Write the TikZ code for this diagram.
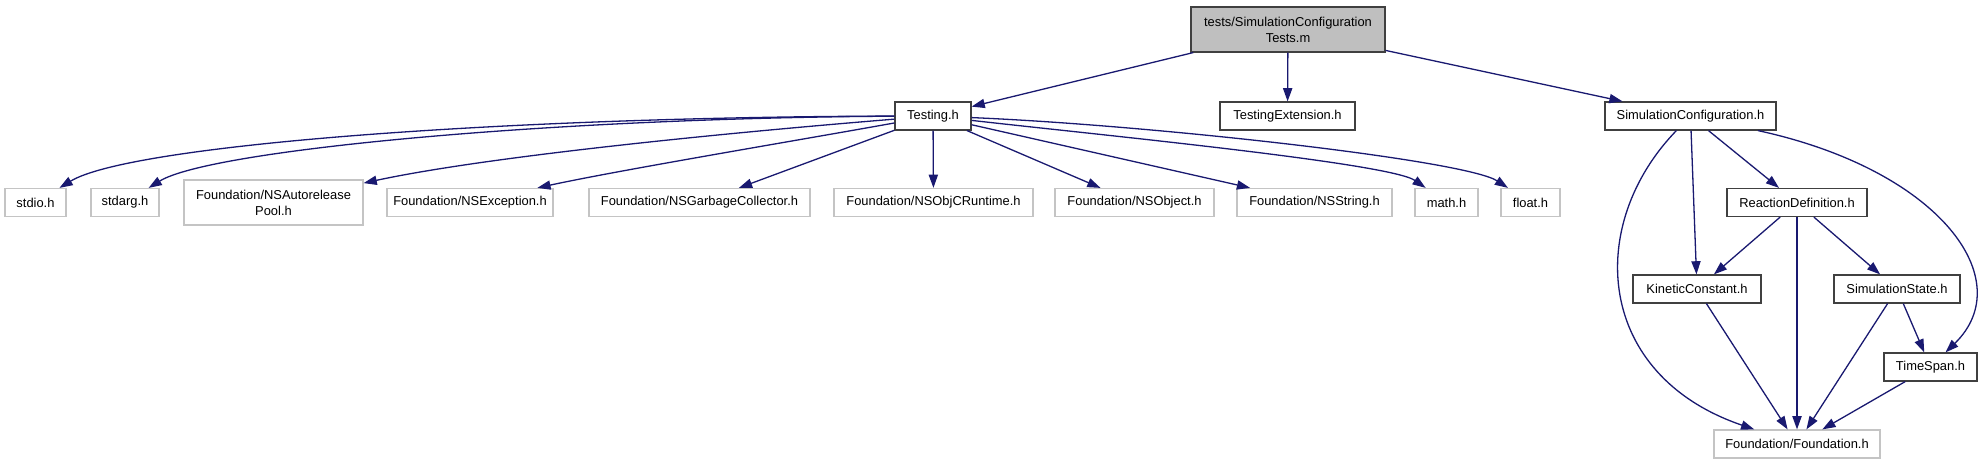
\documentclass[tikz,border=0pt]{standalone}
\usepackage{fontspec}
\setmainfont{Liberation Sans}
\usepackage{tikz}
\usetikzlibrary{arrows.meta}
\definecolor{edgeblue}{RGB}{25,25,112}
\definecolor{rootgray}{RGB}{191,191,191}
\definecolor{docgray}{RGB}{64,64,64}
\definecolor{extgray}{RGB}{196,196,196}

\begin{document}
\begin{tikzpicture}[x=0.5pt, y=-0.5pt,
    box/.style={rectangle, inner sep=0pt, minimum height=14pt, line width=0.6pt, align=center, font=\fontsize{6.45}{8}\selectfont},
    doc/.style={box, draw=docgray, fill=white},
    ext/.style={box, draw=extgray, fill=white},
    bw/.style={minimum width=#1*0.5pt},
    dep/.style={-{Triangle[length=6.6pt, width=4.6pt]}, edgeblue, line width=0.65pt}]
    % Frame
    \useasboundingbox (0,0) rectangle (1981,464);

    % Main file and its direct includes
    \node[doc, fill=rootgray, bw=194, minimum height=22.5pt] (M) at (1288,29.5) {tests/SimulationConfiguration\\Tests.m};
    \node[doc, bw=76] (T) at (933,116) {Testing.h};
    \node[doc, bw=135] (TE) at (1287.5,116) {TestingExtension.h};
    \node[doc, bw=171] (SC) at (1690.5,116) {SimulationConfiguration.h};

    % System headers
    \node[ext, bw=61] (IO) at (35.5,202.5) {stdio.h};
    \node[ext, bw=68] (SA) at (125,202.5) {stdarg.h};
    \node[ext, bw=179, minimum height=22.5pt] (AP) at (273.5,202.5) {Foundation/NSAutorelease\\Pool.h};
    \node[ext, bw=166] (EX) at (470,202.5) {Foundation/NSException.h};
    \node[ext, bw=221] (GC) at (699.5,202.5) {Foundation/NSGarbageCollector.h};
    \node[ext, bw=199] (RT) at (933.5,202.5) {Foundation/NSObjCRuntime.h};
    \node[ext, bw=159] (OB) at (1134.5,202.5) {Foundation/NSObject.h};
    \node[ext, bw=155] (ST) at (1314.5,202.5) {Foundation/NSString.h};
    \node[ext, bw=63] (MA) at (1446.5,202.5) {math.h};
    \node[ext, bw=59] (FL) at (1530.5,202.5) {float.h};

    % Model headers
    \node[doc, bw=140] (RD) at (1797,202.5) {ReactionDefinition.h};
    \node[doc, bw=128] (KC) at (1697,289) {KineticConstant.h};
    \node[doc, bw=126] (SS) at (1897,289) {SimulationState.h};
    \node[doc, bw=93] (TS) at (1930.5,367) {TimeSpan.h};
    \node[ext, bw=166] (FF) at (1797,444) {Foundation/Foundation.h};

    % Includes of the test file
    \draw[dep] (M) -- (T);
    \draw[dep] (M) -- (TE);
    \draw[dep] (M) -- (SC);

    % Includes of Testing.h
    \draw[dep] (T) .. controls (500,117) and (130,145) .. (IO);
    \draw[dep] (T) .. controls (550,118) and (210,150) .. (SA);
    \draw[dep] (T) .. controls (700,135) and (480,158) .. (AP);
    \draw[dep] (T) .. controls (800,140) and (620,170) .. (EX);
    \draw[dep] (T) -- (GC);
    \draw[dep] (T) -- (RT);
    \draw[dep] (T) -- (OB);
    \draw[dep] (T) -- (ST);
    \draw[dep] (T) .. controls (1100,135) and (1390,163) .. (MA);
    \draw[dep] (T) .. controls (1150,125) and (1465,160) .. (FL);

    % Includes of the model
    \draw[dep] (SC) .. controls (1585,225) and (1595,375) .. (FF);
    \draw[dep] (SC) -- (KC);
    \draw[dep] (SC) -- (RD);
    \draw[dep] (SC) .. controls (1940,170) and (2020,280) .. (TS);
    \draw[dep] (RD) -- (KC);
    \draw[dep] (RD) -- (FF);
    \draw[dep] (RD) -- (SS);
    \draw[dep] (KC) -- (FF);
    \draw[dep] (SS) -- (FF);
    \draw[dep] (SS) -- (TS);
    \draw[dep] (TS) -- (FF);
\end{tikzpicture}
\end{document}
